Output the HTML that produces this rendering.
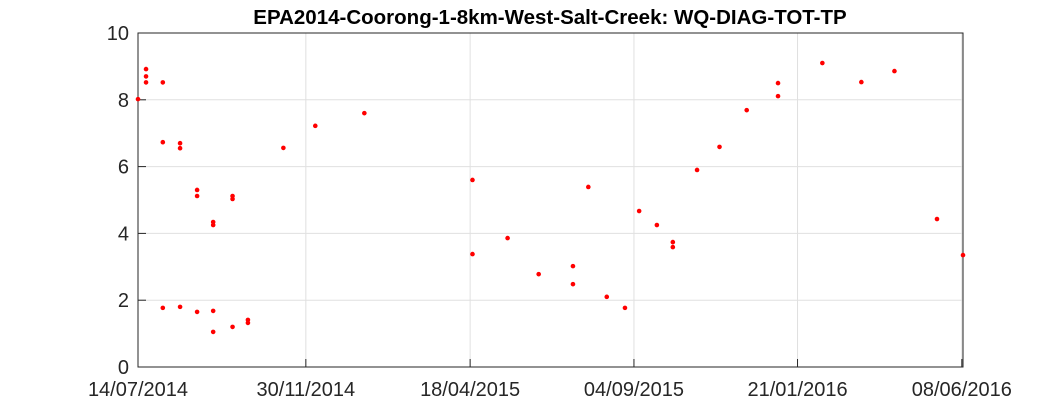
<!DOCTYPE html>
<html><head><meta charset="utf-8"><style>
body{margin:0;background:#fff;}
svg{display:block;font-family:"Liberation Sans",Arial,sans-serif;}
</style></head><body>
<svg id="chart" width="1063" height="413">
<text x="550" y="24" text-anchor="middle" font-size="20.5" font-weight="bold" fill="#000">EPA2014-Coorong-1-8km-West-Salt-Creek: WQ-DIAG-TOT-TP</text>
<g id="grid"></g><g id="axes"></g><g id="marks"></g>
</svg>
<script>
const xTickLabels=["14/07/2014","30/11/2014","18/04/2015","04/09/2015","21/01/2016","08/06/2016"];
const xTickDays=[0,142,281,419.6,558,697];
const yTicks=[0,2,4,6,8,10];
const days=[0,6.8,6.8,6.8,21,21,21,35.6,35.6,35.6,50,50,50,63.6,63.6,63.6,63.6,80,80,80,93,93,123,150,191.5,283,283,312.7,339,368,368,381,396.6,412,424,439,452.5,452.5,473,492,515,541.5,541.5,579,612,640,676,698];
const values=[8.02,8.92,8.7,8.52,8.52,6.73,1.77,6.7,6.55,1.8,5.3,5.12,1.65,4.34,4.25,1.68,1.05,5.12,5.03,1.2,1.41,1.32,6.56,7.22,7.6,5.6,3.38,3.86,2.78,3.02,2.48,5.39,2.1,1.77,4.67,4.25,3.74,3.59,5.9,6.59,7.69,8.5,8.11,9.1,8.53,8.86,4.43,3.35];
const L=138,R=963,T=33,B=367,xMax=698;
const xs=d=>L+(d/xMax)*(R-L);
const ys=v=>B-(v/10)*(B-T);
const NS="http://www.w3.org/2000/svg";
const g=document.getElementById('grid'),a=document.getElementById('axes'),m=document.getElementById('marks');
function el(t,at,p){const e=document.createElementNS(NS,t);for(const k in at)e.setAttribute(k,at[k]);p.appendChild(e);return e;}
xTickDays.forEach((d,i)=>{
 const x=xs(d);
 const gl=el('line',{x1:x,x2:x,y1:T,y2:B,stroke:'#e0e0e0','stroke-width':1},g);
 
 
 el('line',{x1:x,x2:x,y1:B,y2:B-8,stroke:'#262626'},a);
 const t=el('text',{x:x,y:396,'text-anchor':'middle','font-size':20,fill:'#262626'},a);
 t.textContent=xTickLabels[i];
 
 
});
yTicks.forEach(v=>{
 const y=ys(v);
 const gl=el('line',{x1:L,x2:R,y1:y,y2:y,stroke:'#e0e0e0','stroke-width':1},g);
 
 
 el('line',{x1:L,x2:L+8,y1:y,y2:y,stroke:'#262626'},a);
 const t=el('text',{x:L-9,y:y+7,'text-anchor':'end','font-size':20,fill:'#262626'},a);
 t.textContent=v;
 
 
});
const fr=el('rect',{x:L,y:T,width:R-L,height:B-T,fill:'none',stroke:'#262626','stroke-width':1},a);


days.forEach((d,i)=>{
 const c=el('circle',{cx:xs(d),cy:ys(values[i]),r:2.3,fill:'#ff0000'},m);
 
 
});
</script>
</body></html>
